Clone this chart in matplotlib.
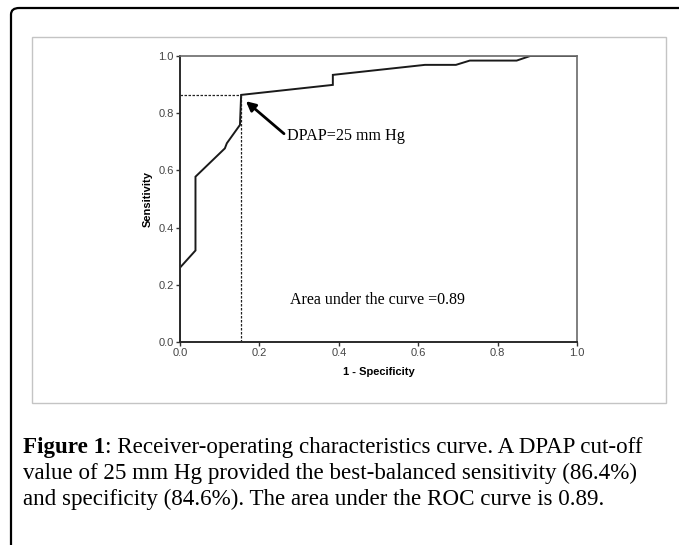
#!/usr/bin/env python3
"""
ROC curve for DPAP cut-off, redrawn as a journal figure with caption
"""

import matplotlib
matplotlib.use('Agg')
import matplotlib.pyplot as plt
from matplotlib.patches import Rectangle, FancyBboxPatch

# ROC curve points
fpr = [0.0, 0.0, 0.039, 0.039, 0.113, 0.118, 0.151, 0.154, 0.385, 0.385,
       0.617, 0.695, 0.730, 0.848, 0.882, 1.0]
tpr = [0.0, 0.26, 0.32, 0.578, 0.677, 0.695, 0.759, 0.864, 0.899, 0.934,
       0.969, 0.969, 0.984, 0.984, 1.0, 1.0]

# best cut-off (DPAP = 25 mm Hg)
cut_x = 0.154
cut_y = 0.864

ticks = [0.0, 0.2, 0.4, 0.6, 0.8, 1.0]
tick_labels = ['0.0', '0.2', '0.4', '0.6', '0.8', '1.0']

cut_label = 'DPAP=25 mm Hg'
auc_label = 'Area under the curve =0.89'
caption_bold = 'Figure 1'
caption_lines = [
    ': Receiver-operating characteristics curve. A DPAP cut-off',
    'value of 25 mm Hg provided the best-balanced sensitivity (86.4%)',
    'and specificity (84.6%). The area under the ROC curve is 0.89.',
]

W, H = 679, 545
fig = plt.figure(figsize=(W / 100, H / 100), dpi=100)


def fx(px):
    return px / W


def fy(py):
    return 1 - py / H


# outer page frame (only top and left visible, rounded corner)
frame = FancyBboxPatch((fx(11), fy(600)), fx(760), fy(8) - fy(600),
                       boxstyle='round,pad=0,rounding_size=0.012',
                       transform=fig.transFigure, fill=False,
                       edgecolor='black', linewidth=1.6)
fig.patches.append(frame)

# light grey border of the chart image
box = Rectangle((fx(32), fy(403)), fx(666) - fx(32), fy(37) - fy(403),
                transform=fig.transFigure, fill=False,
                edgecolor='#c4c4c4', linewidth=1.0)
fig.patches.append(box)

ax = fig.add_axes([fx(180), fy(342), fx(577) - fx(180), fy(56) - fy(342)])
ax.plot(fpr, tpr, color='#1a1a1a', linewidth=1.4, solid_joinstyle='miter')
ax.plot([cut_x, cut_x], [0, cut_y], color='#222222', linewidth=0.9,
        linestyle=(0, (2, 1.2)))
ax.plot([0, cut_x], [cut_y, cut_y], color='#222222', linewidth=0.9,
        linestyle=(0, (2, 1.2)))

ax.set_xlim(0, 1)
ax.set_ylim(0, 1)
ax.set_xticks(ticks)
ax.set_yticks(ticks)
ax.set_xticklabels(tick_labels, fontfamily='Liberation Sans', fontsize=8,
                   color='#444444')
ax.set_yticklabels(tick_labels, fontfamily='Liberation Sans', fontsize=8,
                   color='#444444')
ax.tick_params(direction='out', length=3, width=1.0, color='#333333', pad=1.5)
for side in ['left', 'bottom']:
    ax.spines[side].set_color('#2a2a2a')
    ax.spines[side].set_linewidth(1.4)
for side in ['top', 'right']:
    ax.spines[side].set_color('#6a6a6a')
    ax.spines[side].set_linewidth(1.2)

ax.set_xlabel('1 - Specificity', fontfamily='Liberation Sans',
              fontweight='bold', fontsize=8, labelpad=6)
ax.set_ylabel('Sensitivity', fontfamily='Liberation Sans',
              fontweight='bold', fontsize=8, labelpad=4)

ax.annotate(cut_label, xy=(0.166, 0.842), xytext=(0.269, 0.72),
            fontfamily='Liberation Serif', fontsize=11.6, va='center',
            arrowprops=dict(arrowstyle='-|>', color='black', lw=2.0,
                            mutation_scale=14, shrinkA=0, shrinkB=0,
                            relpos=(0, 0.5)))
ax.text(0.276, 0.147, auc_label, fontfamily='Liberation Serif',
        fontsize=11.5, va='center')

# caption: size the font so the second line spans most of the text block
x0 = fx(23)
probe = fig.text(x0, 0, caption_lines[1], fontfamily='Liberation Serif',
                 fontsize=14)
fig.canvas.draw()
renderer = fig.canvas.get_renderer()
w14 = probe.get_window_extent(renderer=renderer).width
probe.remove()
cap_size = 14 * 615 / w14

bold = fig.text(x0, fy(453), caption_bold, fontfamily='Liberation Serif',
                fontweight='bold', fontsize=cap_size, va='baseline')
bb = bold.get_window_extent(renderer=renderer)
fig.text(bb.x1 / W, fy(453), caption_lines[0], fontfamily='Liberation Serif',
         fontsize=cap_size, va='baseline')
fig.text(x0, fy(479), caption_lines[1], fontfamily='Liberation Serif',
         fontsize=cap_size, va='baseline')
fig.text(x0, fy(505), caption_lines[2], fontfamily='Liberation Serif',
         fontsize=cap_size, va='baseline')

fig.savefig('out.png', dpi=100)
